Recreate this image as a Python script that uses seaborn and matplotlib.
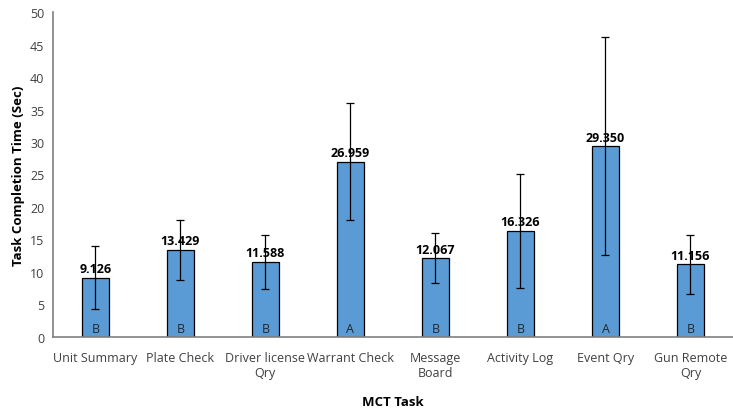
import pandas as pd
import numpy as np
import matplotlib
matplotlib.use("Agg")
import matplotlib.pyplot as plt
import seaborn as sns

# --- data ---
tasks = ["Unit Summary", "Plate Check", "Driver license\nQry", "Warrant Check",
         "Message\nBoard", "Activity Log", "Event Qry", "Gun Remote\nQry"]
means = [9.126, 13.429, 11.588, 26.959, 12.067, 16.326, 29.350, 11.156]
errors = [4.9, 4.6, 4.15, 9.0, 3.85, 8.75, 16.8, 4.6]
groups = ["B", "B", "B", "A", "B", "B", "A", "B"]

df = pd.DataFrame({"task": tasks, "mean": means, "err": errors, "group": groups})

sns.set_style("white")
plt.rcParams["font.family"] = ["Open Sans", "DejaVu Sans"]

fig = plt.figure(figsize=(7.33, 4.10), dpi=100)
ax = fig.add_axes([0.072, 0.176, 0.928, 0.792])

sns.barplot(data=df, x="task", y="mean", color="#5B9BD5", width=0.32,
            edgecolor="black", linewidth=0.9, saturation=1, errorbar=None, ax=ax)

ax.errorbar(np.arange(len(df)), df["mean"], yerr=df["err"], fmt="none",
            ecolor="black", elinewidth=0.9, capsize=3, capthick=0.9)

for i, row in df.iterrows():
    ax.text(i, row["mean"] + 0.4, f"{row['mean']:.3f}", ha="center", va="bottom",
            fontsize=9, fontweight="bold", color="black")
    ax.text(i, 0.3, row["group"], ha="center", va="bottom", fontsize=9,
            color="#262626")

ax.set_ylim(0, 50)
ax.set_xlim(-0.5, len(df) - 0.5)
ax.set_yticks(range(0, 51, 5))
ax.tick_params(axis="both", length=0, labelsize=9, colors="#404040", pad=6)
ax.tick_params(axis="x", pad=10)
ax.set_xlabel("MCT Task", fontsize=9.5, fontweight="bold", color="black", labelpad=12)
ax.set_ylabel("Task Completion Time (Sec)", fontsize=9.5, fontweight="bold",
              color="black", labelpad=4)

for side in ["top", "right"]:
    ax.spines[side].set_visible(False)
for side in ["left", "bottom"]:
    ax.spines[side].set_color("#808080")
    ax.spines[side].set_linewidth(1.2)

fig.savefig("out.png", dpi=100)
